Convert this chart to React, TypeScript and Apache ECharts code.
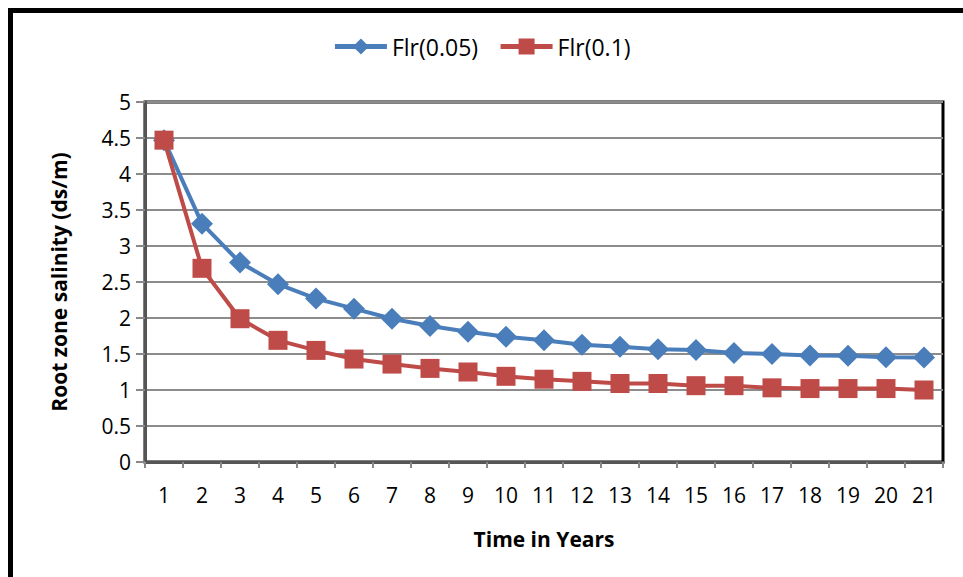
import React, { useEffect, useRef } from "react";
import * as echarts from "echarts";

const years = ["1","2","3","4","5","6","7","8","9","10","11","12","13","14","15","16","17","18","19","20","21"];
const flr005 = [4.47, 3.31, 2.77, 2.47, 2.27, 2.13, 1.99, 1.89, 1.81, 1.74, 1.69, 1.63, 1.6, 1.565, 1.555, 1.515, 1.5, 1.48, 1.475, 1.455, 1.45];
const flr01 = [4.47, 2.69, 1.99, 1.69, 1.55, 1.43, 1.36, 1.3, 1.25, 1.19, 1.15, 1.12, 1.09, 1.09, 1.06, 1.06, 1.03, 1.02, 1.02, 1.02, 1.0];
const seriesNames = ["Flr(0.05)", "Flr(0.1)"];

const FONT = "'Liberation Sans Narrow', 'Open Sans', sans-serif";

export default function App() {
  const ref = useRef<HTMLDivElement>(null);
  useEffect(() => {
    if (!ref.current) return;
    const chart = echarts.init(ref.current, null, { renderer: "svg" });
    chart.setOption({
      animation: false,
      backgroundColor: "#fff",
      textStyle: { fontFamily: FONT, color: "#000" },
      graphic: [
        {
          type: "rect",
          shape: { x: 10.5, y: 10.5, width: 1000, height: 700 },
          style: { fill: "none", stroke: "#000", lineWidth: 5 },
          silent: true,
          z: 100,
        },
      ],
      legend: {
        top: 30,
        left: "center",
        itemWidth: 52,
        itemHeight: 20,
        itemGap: 20,
        lineStyle: { width: 5 },
        textStyle: { fontSize: 23, fontFamily: FONT, color: "#000" },
        data: seriesNames,
      },
      grid: {
        left: 145,
        top: 102,
        right: 20,
        bottom: 115,
        show: true,
        borderColor: "#000",
        borderWidth: 3,
        backgroundColor: "transparent",
      },
      xAxis: {
        type: "category",
        data: years,
        boundaryGap: true,
        name: "Time in Years",
        nameLocation: "middle",
        nameGap: 66,
        nameTextStyle: { fontSize: 21, fontWeight: "bold", fontFamily: FONT, color: "#000" },
        axisLine: { lineStyle: { color: "#555", width: 3 } },
        axisTick: { show: true, length: 6, lineStyle: { color: "#888", width: 2 } },
        axisLabel: { fontSize: 21, margin: 22, color: "#000", fontFamily: FONT },
        splitLine: { show: false },
      },
      yAxis: {
        type: "value",
        min: 0,
        max: 5,
        interval: 0.5,
        name: "Root zone salinity (ds/m)",
        nameLocation: "middle",
        nameGap: 76,
        nameRotate: 90,
        nameTextStyle: { fontSize: 21, fontWeight: "bold", fontFamily: FONT, color: "#000" },
        axisLine: { show: true, lineStyle: { color: "#555", width: 3 } },
        axisTick: { show: true, length: 9, lineStyle: { color: "#888", width: 2 } },
        axisLabel: { fontSize: 21, margin: 14, color: "#000", fontFamily: FONT },
        splitLine: { show: true, lineStyle: { color: "#8c8c8c", width: 2 } },
      },
      series: [
        {
          name: seriesNames[0],
          type: "line",
          data: flr005,
          symbol: "diamond",
          symbolSize: 22,
          itemStyle: { color: "#4a7ebb" },
          lineStyle: { color: "#4a7ebb", width: 4 },
        },
        {
          name: seriesNames[1],
          type: "line",
          data: flr01,
          symbol: "rect",
          symbolSize: 19,
          itemStyle: { color: "#be4b48" },
          lineStyle: { color: "#be4b48", width: 4 },
        },
      ],
    });
    return () => chart.dispose();
  }, []);
  return <div ref={ref} style={{ width: 963, height: 577, position: "absolute", left: 0, top: 0 }} />;
}
